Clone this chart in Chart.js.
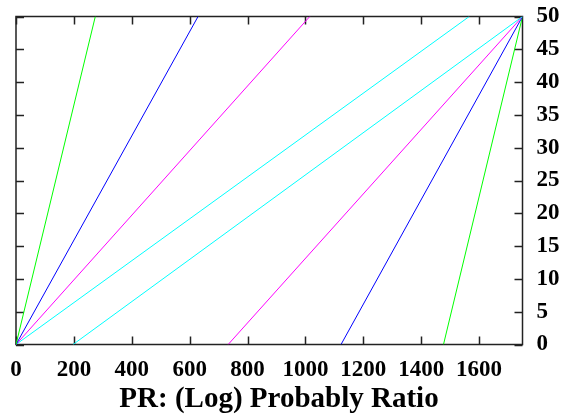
<!DOCTYPE html>
<html>
<head>
<meta charset="utf-8">
<script src="https://cdn.jsdelivr.net/npm/chart.js@4/dist/chart.umd.min.js"></script>
<style>
html,body{margin:0;padding:0;background:#fff;}
#wrap{width:568px;height:415px;position:relative;}
</style>
</head>
<body>
<div id="wrap"><canvas id="c" width="568" height="415"></canvas></div>
<script>
// Lines from the origin up to the top edge (x where y = 50)
const fromOriginTopX = [274, 629, 1015, 1566];
const fromOriginColors = ['#00ff00', '#0000ff', '#ff00ff', '#00ffff'];
// Lines from the bottom edge (x where y = 0) up to the top-right corner
const toCornerBottomX = [197, 733, 1123, 1477];
const toCornerColors = ['#00ffff', '#ff00ff', '#0000ff', '#00ff00'];
const xMax = 1750;
const yMax = 50;
const xTickStep = 200;
const yTickStep = 5;
const xTitle = 'PR: (Log) Probably Ratio';

const datasets = [];
fromOriginTopX.forEach((x, i) => {
  datasets.push({data: [{x: 0, y: 0}, {x: x, y: yMax}], borderColor: fromOriginColors[i]});
});
toCornerBottomX.forEach((x, i) => {
  datasets.push({data: [{x: x, y: 0}, {x: xMax, y: yMax}], borderColor: toCornerColors[i]});
});
datasets.forEach(d => { d.showLine = true; d.borderWidth = 1; d.pointRadius = 0; d.fill = false; });

const fam = '"Liberation Serif", "Times New Roman", serif';
const font = {family: fam, weight: 'bold', size: 23, lineHeight: 1};

const frame = {
  id: 'frame',
  beforeDatasetsDraw(chart) {
    const {ctx, chartArea: a, scales: {x, y}} = chart;
    ctx.save();
    ctx.strokeStyle = '#222';
    ctx.lineWidth = 1.5;
    ctx.strokeRect(a.left, a.top, a.right - a.left, a.bottom - a.top);
    const L = 8;
    ctx.beginPath();
    for (let v = 0; v < xMax; v += xTickStep) {
      const px = Math.round(x.getPixelForValue(v)) + 0.5;
      ctx.moveTo(px, a.bottom); ctx.lineTo(px, a.bottom - L);
      ctx.moveTo(px, a.top); ctx.lineTo(px, a.top + L);
    }
    for (let v = 0; v <= yMax; v += yTickStep) {
      const py = Math.round(y.getPixelForValue(v)) + 0.5;
      ctx.moveTo(a.left, py); ctx.lineTo(a.left + L, py);
      ctx.moveTo(a.right, py); ctx.lineTo(a.right - L, py);
    }
    ctx.stroke();
    ctx.restore();
  },
  afterDraw(chart) {
    // x-axis title, centred a little right of the plot centre as in the original
    const {ctx} = chart;
    ctx.save();
    ctx.fillStyle = '#000';
    ctx.font = 'bold 29px ' + fam;
    ctx.textAlign = 'center';
    ctx.textBaseline = 'alphabetic';
    ctx.fillText(xTitle, 279, 406.5);
    ctx.restore();
  }
};

new Chart(document.getElementById('c'), {
  type: 'scatter',
  data: {datasets},
  options: {
    responsive: false,
    animation: false,
    layout: {padding: {left: 16, right: 8.5, top: 16.5, bottom: 33.5}},
    plugins: {legend: {display: false}, tooltip: {enabled: false}},
    scales: {
      x: {
        type: 'linear', min: 0, max: xMax,
        grid: {display: false, drawTicks: true, tickLength: 14},
        border: {display: false},
        ticks: {
          stepSize: xTickStep, color: '#000', font, padding: 0, maxRotation: 0, autoSkip: false, includeBounds: false,
          callback: v => (v % xTickStep === 0 ? String(v) : null)
        }
      },
      y: {
        type: 'linear', position: 'right', min: 0, max: yMax,
        grid: {display: false, drawTicks: true, tickLength: 14},
        border: {display: false},
        ticks: {stepSize: yTickStep, color: '#000', font, padding: 0, autoSkip: false}
      }
    }
  },
  plugins: [frame]
});
</script>
</body>
</html>
